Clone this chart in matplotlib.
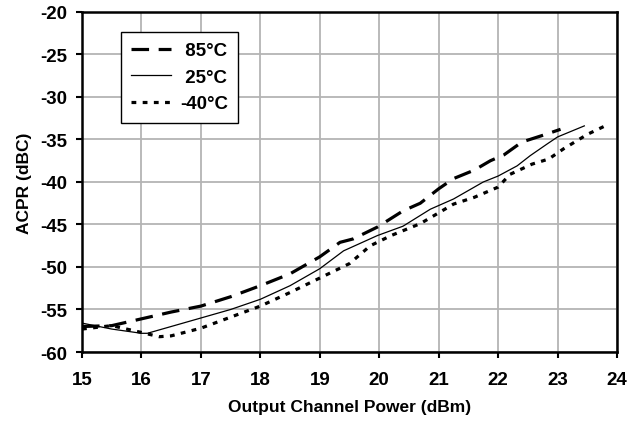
import matplotlib.pyplot as plt

# Output channel power (dBm) vs ACPR (dBc) at three temperatures
x_85 = [15.0, 15.5, 16.0, 16.5, 17.0, 17.5, 18.0, 18.5, 19.0, 19.34, 19.56, 19.97, 20.4,
        20.69, 21.0, 21.25, 21.6, 21.87, 22.1, 22.4, 22.8, 23.05]
y_85 = [-57.0, -56.9, -56.1, -55.3, -54.6, -53.5, -52.2, -50.8, -48.8, -47.1, -46.7, -45.3, -43.4,
        -42.5, -40.8, -39.6, -38.6, -37.5, -36.8, -35.3, -34.4, -33.8]

x_25 = [15.0, 15.5, 16.0, 16.1, 16.5, 17.0, 17.5, 18.0, 18.5, 19.0, 19.4, 19.97, 20.4,
        20.86, 21.25, 21.75, 22.0, 22.32, 22.54, 22.83, 23.0, 23.45]
y_25 = [-56.6, -57.3, -57.8, -57.8, -57.0, -56.0, -55.0, -53.8, -52.2, -50.2, -48.1, -46.3, -45.2,
        -43.2, -42.0, -40.0, -39.3, -38.1, -36.9, -35.5, -34.7, -33.4]

x_m40 = [15.0, 15.5, 16.0, 16.3, 16.5, 17.0, 17.5, 18.0, 18.5, 19.0, 19.5, 19.85, 20.2,
         20.69, 20.91, 21.25, 21.6, 22.0, 22.2, 22.57, 22.85, 23.1, 23.5, 23.8]
y_m40 = [-57.3, -56.9, -57.7, -58.2, -58.1, -57.2, -55.9, -54.6, -53.0, -51.3, -49.6, -47.5, -46.3,
         -44.9, -44.0, -42.6, -41.8, -40.6, -39.1, -37.9, -37.3, -36.1, -34.4, -33.4]

labels = [' 85°C', ' 25°C', '-40°C']

plt.rcParams['font.family'] = ['Liberation Sans', 'DejaVu Sans']
plt.rcParams['font.weight'] = 'bold'
plt.rcParams['axes.unicode_minus'] = False

fig, ax = plt.subplots(figsize=(6.43, 4.27), dpi=100)
fig.subplots_adjust(left=0.1275, right=0.9596, top=0.9696, bottom=0.1733)

ax.plot(x_85, y_85, color='black', lw=2.3, linestyle=(0, (5.5, 3.0)), label=labels[0])
ax.plot(x_25, y_25, color='black', lw=0.9, linestyle='-', label=labels[1])
ax.plot(x_m40, y_m40, color='black', lw=2.3, linestyle=(0, (1.5, 2.0)), label=labels[2])

ax.set_xlim(15, 24)
ax.set_ylim(-60, -20)
ax.set_xticks(range(15, 25))
ax.set_yticks(range(-60, -15, 5))
ax.grid(True, color='#b4b4b4', lw=1.3)
ax.set_axisbelow(True)

for s in ax.spines.values():
    s.set_linewidth(1.8)
    s.set_color('black')

ax.tick_params(axis='both', labelsize=13.5, width=1.5, length=4.3, direction='out')
ax.tick_params(axis='x', pad=9.5)
ax.tick_params(axis='y', pad=6)
for lab in ax.get_xticklabels() + ax.get_yticklabels():
    lab.set_fontweight('bold')

ax.set_xlabel('Output Channel Power (dBm)', fontsize=12.5, fontweight='bold', labelpad=8)
ax.set_ylabel('ACPR (dBC)', fontsize=12.5, fontweight='bold', labelpad=6)

leg = ax.legend(loc='upper left', bbox_to_anchor=(0.073, 0.941), borderaxespad=0,
                frameon=True, fancybox=False, edgecolor='black', handlelength=2.1,
                borderpad=0.55, labelspacing=0.5, handletextpad=0.5,
                prop={'weight': 'bold', 'size': 13.5})
leg.get_frame().set_linewidth(1.0)
leg.get_frame().set_facecolor('white')
leg.get_frame().set_alpha(1)

fig.savefig('out.png', dpi=100)
